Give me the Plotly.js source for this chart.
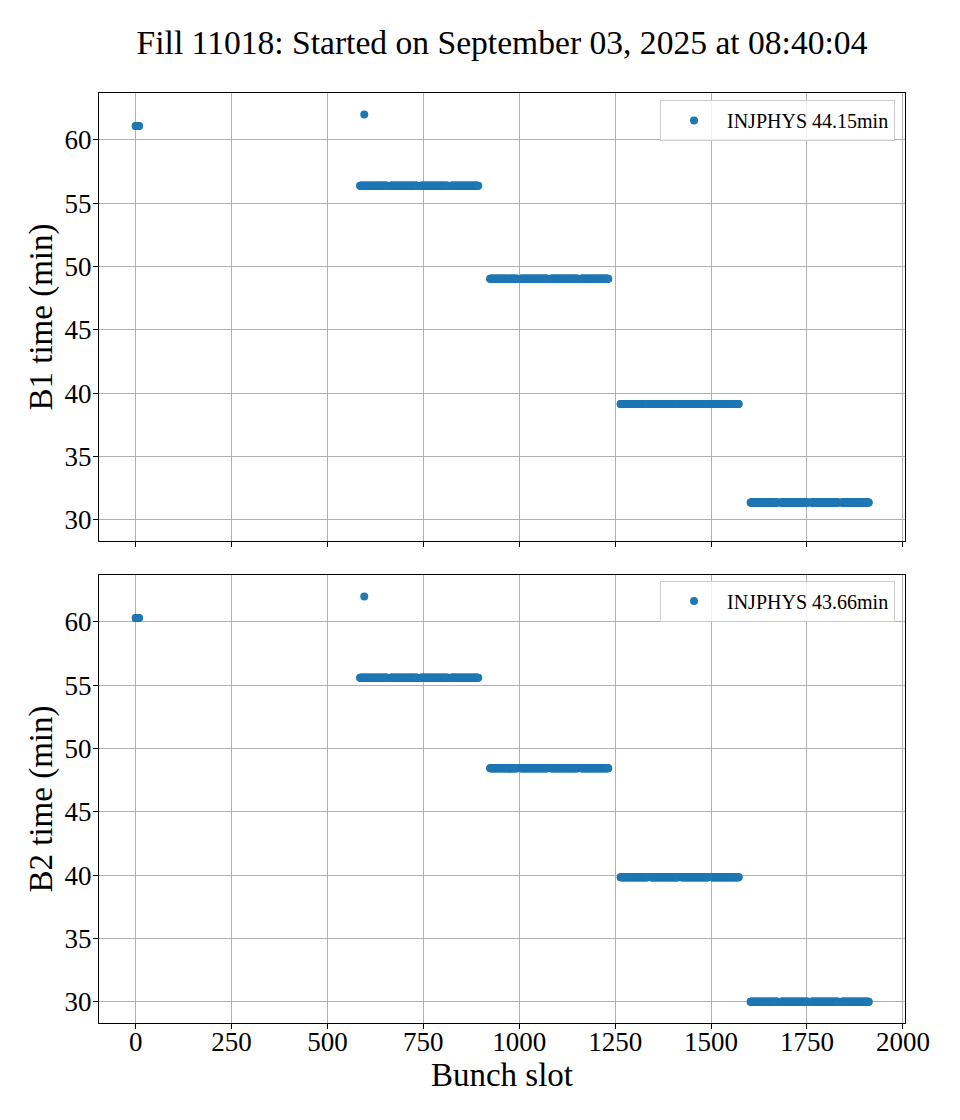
<!DOCTYPE html>
<html>
<head>
<meta charset="utf-8">
<script src="https://cdn.plot.ly/plotly-3.0.1.min.js"></script>
<style>html,body{margin:0;padding:0;background:#fff;}</style>
</head>
<body>
<div id="chart" style="width:960px;height:1120px;"></div>
<script>
// ---- Data ----
const chartTitle = "Fill 11018: Started on September 03, 2025 at 08:40:04";
const legendLabels = ["INJPHYS 44.15min", "INJPHYS 43.66min"];

// First small injection (slots 0..9)
const pilotStart = 0;
const pilotLength = 10;
const pilotTimeB1 = 61.1;
const pilotTimeB2 = 60.3;

// Single isolated bunch
const isolatedSlot = 596;
const isolatedTimeB1 = 62.0;
const isolatedTimeB2 = 62.0;

// Bunch trains: first slot and number of bunches of each train
const trainStarts = [585, 664, 743, 822, 924, 1003, 1082, 1161, 1264, 1343, 1422, 1501, 1603, 1682, 1761, 1840];
const trainLengths = [72, 72, 72, 72, 72, 72, 72, 72, 72, 72, 72, 72, 72, 72, 72, 72];
const trainTimesB1 = [56.37, 56.37, 56.37, 56.37, 49.04, 49.04, 49.04, 49.04, 39.15, 39.15, 39.15, 39.15, 31.37, 31.37, 31.37, 31.37];
const trainTimesB2 = [55.60, 55.60, 55.60, 55.60, 48.44, 48.44, 48.44, 48.44, 39.85, 39.85, 39.85, 39.85, 30.02, 30.02, 30.02, 30.02];

const xTickVals = [0, 250, 500, 750, 1000, 1250, 1500, 1750, 2000];
const yTickVals = [30, 35, 40, 45, 50, 55, 60];

// ---- Build point lists ----
function buildSeries(pilotTime, isoTime, trainTimes) {
  const xs = [], ys = [];
  for (let i = 0; i < pilotLength; i++) { xs.push(pilotStart + i); ys.push(pilotTime); }
  xs.push(isolatedSlot); ys.push(isoTime);
  for (let t = 0; t < trainStarts.length; t++) {
    for (let i = 0; i < trainLengths[t]; i++) { xs.push(trainStarts[t] + i); ys.push(trainTimes[t]); }
  }
  return {xs, ys};
}
const b1 = buildSeries(pilotTimeB1, isolatedTimeB1, trainTimesB1);
const b2 = buildSeries(pilotTimeB2, isolatedTimeB2, trainTimesB2);

const FONT = "Liberation Serif, Times New Roman, serif";
const BLUE = "#1f77b4";

const traces = [
  {x: b1.xs, y: b1.ys, type: "scatter", mode: "markers", name: legendLabels[0],
   xaxis: "x", yaxis: "y", legend: "legend",
   marker: {color: BLUE, size: 8}},
  {x: b2.xs, y: b2.ys, type: "scatter", mode: "markers", name: legendLabels[1],
   xaxis: "x2", yaxis: "y2", legend: "legend2",
   marker: {color: BLUE, size: 8}}
];

const xRange = [-95.5, 2005.5];
const yRange = [28.34, 63.7];

const axisCommon = {
  showline: true, linecolor: "black", linewidth: 1, mirror: true,
  ticks: "outside", ticklen: 5, tickwidth: 1, tickcolor: "black",
  showgrid: true, gridcolor: "#b0b0b0", gridwidth: 1,
  zeroline: false,
  tickfont: {family: FONT, size: 27, color: "black"}
};

const legendCommon = {
  xref: "paper", yref: "paper", xanchor: "right", yanchor: "top",
  bgcolor: "rgba(255,255,255,0.8)", bordercolor: "#cccccc", borderwidth: 1,
  font: {family: FONT, size: 20, color: "black"},
  itemwidth: 56, entrywidth: 182, entrywidthmode: "pixels"
};

const layout = {
  width: 960, height: 1120,
  paper_bgcolor: "white", plot_bgcolor: "white",
  margin: {l: 99, r: 55, t: 93, b: 97},
  showlegend: true,
  title: {text: chartTitle, font: {family: FONT, size: 33.6, color: "black"},
          x: 0.5, xanchor: "center", xref: "paper", y: 1 - 42/1120, yref: "container", yanchor: "middle"},
  xaxis: Object.assign({}, axisCommon, {domain: [0, 1], anchor: "y", range: xRange,
          tickvals: xTickVals, showticklabels: false}),
  yaxis: Object.assign({}, axisCommon, {domain: [0.5183, 1], anchor: "x", range: yRange,
          tickvals: yTickVals, ticklabelstandoff: -4,
          title: {text: "B1 time (min)", font: {family: FONT, size: 33, color: "black"}, standoff: 2}}),
  xaxis2: Object.assign({}, axisCommon, {domain: [0, 1], anchor: "y2", range: xRange,
          tickvals: xTickVals, ticklabelstandoff: -10,
          title: {text: "Bunch slot", font: {family: FONT, size: 33, color: "black"}, standoff: 0}}),
  yaxis2: Object.assign({}, axisCommon, {domain: [0, 0.4817], anchor: "x2", range: yRange,
          tickvals: yTickVals, ticklabelstandoff: -4,
          title: {text: "B2 time (min)", font: {family: FONT, size: 33, color: "black"}, standoff: 2}}),
  legend: Object.assign({}, legendCommon, {x: 0.9876, y: 0.9925}),
  legend2: Object.assign({}, legendCommon, {x: 0.9876, y: 0.4758})
};

Plotly.newPlot("chart", traces, layout, {displayModeBar: false, staticPlot: true});
</script>
</body>
</html>
